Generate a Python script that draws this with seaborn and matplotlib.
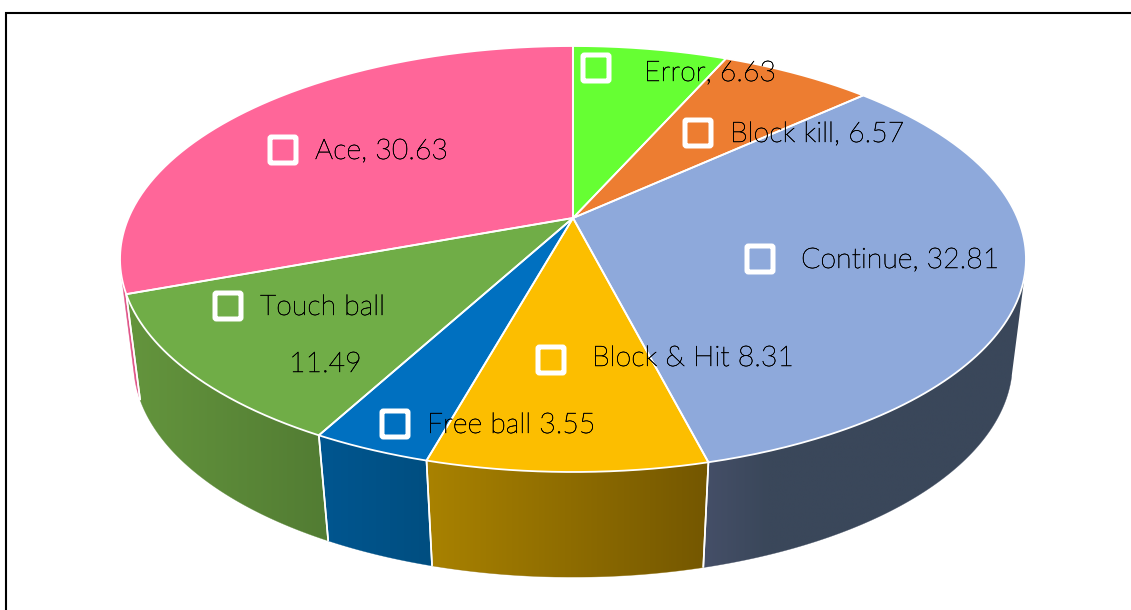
import numpy as np
import matplotlib
matplotlib.use("Agg")
import matplotlib.pyplot as plt
import matplotlib.patheffects as pe
from matplotlib.patches import FancyBboxPatch, Polygon
from matplotlib.colors import to_rgb
import seaborn as sns

# ---- data (clockwise from 12 o'clock)
categories = ["Error", "Block kill", "Continue", "Block & Hit", "Free ball", "Touch ball", "Ace"]
values = [6.63, 6.57, 32.81, 8.31, 3.55, 11.49, 30.63]
labels = ["Error, 6.63", "Block kill, 6.57", "Continue, 32.81", "Block & Hit 8.31",
          "Free ball 3.55", "Touch ball", "Ace, 30.63"]
top_colors = ["#66FF33", "#ED7D31", "#8EA9DB", "#FCBE00", "#0070C0", "#70AD47", "#FF6699"]
# wall shading, screen left -> screen right
wall_left = ["#4CBF26", "#B25E25", "#454F68", "#A98200", "#005690", "#64953D", "#E0578A"]
wall_right = ["#4CBF26", "#B25E25", "#3A475A", "#745700", "#004E80", "#527C33", "#E0578A"]
wall_ramp = [1.0, 1.0, 0.2, 1.0, 1.0, 1.0, 1.0]

# ---- projection of the disc (layout)
CX = 573.0
TOP = dict(a=444.5, b=205.1, k=0.1925, cy=218.0)
BASE = dict(a=432.0, b=207.0, k=0.184, cy=323.5)
WALL_FROM, WALL_TO = 104.0, 256.0


def project(theta_deg, p=TOP):
    t = np.radians(theta_deg)
    x, y = np.sin(t), np.cos(t)
    d = 1 + p["k"] * y
    return CX + p["a"] * x / d, p["cy"] - p["b"] * y / d


sns.set_theme(style="white")
plt.rcParams["font.family"] = ["Lato", "DejaVu Sans"]
fig = plt.figure(figsize=(11.31, 6.10), dpi=100, facecolor="white")
ax = fig.add_axes([0, 0, 1, 1])
ax.set_xlim(0, 1131)
ax.set_ylim(610, 0)
ax.axis("off")

# frame
ax.plot([6, 6, 1131], [610, 12.5, 12.5], color="black", lw=1.5, solid_joinstyle="miter", zorder=1)

edges = np.concatenate([[0], np.cumsum(values)]) / sum(values) * 360
palette = sns.color_palette(top_colors)

# side walls: a horizontal gradient clipped to each wall's outline
for i in range(len(values)):
    a0, a1 = max(edges[i], WALL_FROM), min(edges[i + 1], WALL_TO)
    if a1 <= a0:
        continue
    th = np.linspace(a0, a1, 200)
    tx, ty = project(th)
    bx, by = project(th, BASE)
    px, py = np.r_[tx, bx[::-1]], np.r_[ty, by[::-1]]
    x_lo, x_hi = px.min(), px.max()
    f = np.clip(np.linspace(0, 1, 256) / wall_ramp[i], 0, 1)[:, None]
    cl, cr = np.array(to_rgb(wall_left[i])), np.array(to_rgb(wall_right[i]))
    img = (cl + (cr - cl) * f)[None, :, :]
    im = ax.imshow(img, extent=(x_lo, x_hi, py.max(), py.min()), aspect="auto", zorder=2,
                   interpolation="bilinear")
    im.set_clip_path(Polygon(np.c_[px, py], closed=True, transform=ax.transData))
    ax.plot(px, py, color=cl * 0.5 + cr * 0.5, lw=0.4, alpha=0.6, zorder=2)
    for a in (edges[i], edges[i + 1]):
        if WALL_FROM < a < WALL_TO:
            sx0, sy0 = project(a)
            sx1, sy1 = project(a, BASE)
            ax.plot([sx0, sx1], [sy0, sy1], color="white", lw=1.2, zorder=3, solid_capstyle="butt")
ax.set_xlim(0, 1131)
ax.set_ylim(610, 0)

# top face
for i in range(len(values)):
    th = np.linspace(edges[i], edges[i + 1], 200)
    rx, ry = project(th)
    ax.fill(np.r_[CX, rx], np.r_[TOP["cy"], ry], facecolor=palette[i], edgecolor="none", zorder=4)
    ax.plot(np.r_[CX, rx, CX], np.r_[TOP["cy"], ry, TOP["cy"]], color="white", lw=1.3, zorder=5,
            solid_joinstyle="round")

# labels and markers
squares = [(596, 68), (698, 133), (760, 259), (551, 360), (395, 424), (228, 306), (283, 150)]
texts = [(644, 81), (730, 142), (801, 268), (592, 366), (427, 433), (260, 315), (315, 159)]
ink = [pe.withStroke(linewidth=0.35, foreground="black")]
for i in range(len(values)):
    sx, sy = squares[i]
    ax.add_patch(FancyBboxPatch((sx - 13, sy - 13), 26, 26, boxstyle="round,pad=0,rounding_size=1.5",
                                facecolor="none", edgecolor="white", lw=3.6, zorder=6))
    ax.text(*texts[i], labels[i], fontsize=20.5, color="black", ha="left", va="baseline",
            fontweight="light", path_effects=ink, zorder=7)
ax.text(289, 372, f"{values[5]:.2f}", fontsize=20.5, color="black", ha="left", va="baseline",
        fontweight="light", path_effects=ink, zorder=7)

fig.savefig("out.png", dpi=100, facecolor="white")
